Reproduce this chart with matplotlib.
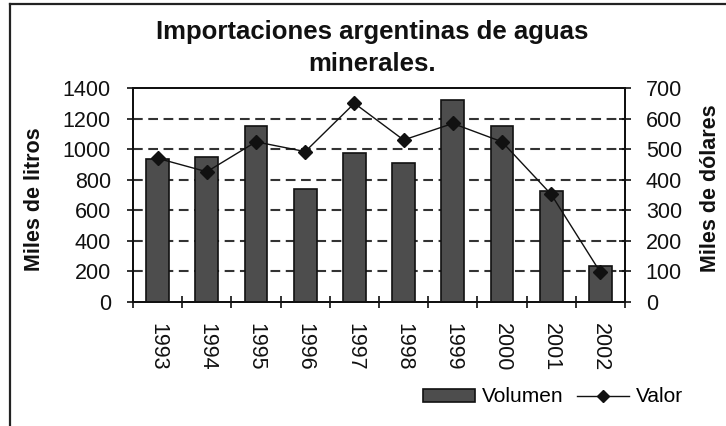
import matplotlib
matplotlib.use("Agg")
import matplotlib.pyplot as plt
from matplotlib.lines import Line2D
from matplotlib.patches import Patch
import numpy as np

plt.rcParams['font.family'] = ['Liberation Sans', 'DejaVu Sans']
plt.rcParams['lines.scale_dashes'] = False

# datos: importaciones de aguas minerales
years = ['1993', '1994', '1995', '1996', '1997', '1998', '1999', '2000', '2001', '2002']
volumen = [933, 946, 1153, 739, 972, 907, 1321, 1153, 726, 237]   # miles de litros
valor = [470, 426, 524, 492, 650, 530, 584, 524, 352, 97]          # miles de dolares

DPI = 100
fig = plt.figure(figsize=(7.26, 4.26), dpi=DPI)
ax = fig.add_axes([133 / 726, 1 - 302 / 426, 492 / 726, 214 / 426])
ax2 = ax.twinx()

x = np.arange(len(years))
ink = '#111111'

ax.bar(x, volumen, width=0.46, color='#4d4d4d', edgecolor=ink, linewidth=1.2, zorder=2)
ax2.plot(x, valor, color=ink, linewidth=1.0, marker='D', markersize=7.5,
         markerfacecolor=ink, markeredgecolor=ink)

ax.set_xlim(-0.5, len(years) - 0.5)
ax.set_ylim(0, 1400)
ax2.set_ylim(0, 700)
ax.set_yticks(np.arange(0, 1401, 200))
ax2.set_yticks(np.arange(0, 701, 100))

# lineas de guia punteadas
ax.set_axisbelow(True)
for v in range(200, 1400, 200):
    ax.axhline(v, color='#333333', linewidth=1.5, linestyle=(0, (7, 4)), zorder=1)

# eje x: marcas entre categorias, etiquetas centradas
ax.set_xticks(np.arange(-0.5, len(years)), labels=[''] * (len(years) + 1))
ax.set_xticks(x, labels=years, minor=True)
ax.tick_params(axis='x', which='major', direction='inout', length=8, width=1.2, color=ink)
ax.tick_params(axis='x', which='minor', length=0, pad=15, labelsize=15.5, labelrotation=-90,
               labelcolor=ink)
for lab in ax.get_xticklabels(minor=True):
    lab.set_va('top')

ax.tick_params(axis='y', direction='inout', length=8, width=1.2, color=ink, pad=12,
               labelsize=15.5, labelcolor=ink)
ax2.tick_params(axis='y', direction='inout', length=8, width=1.2, color=ink, pad=11,
                labelsize=15.5, labelcolor=ink)

for a in (ax, ax2):
    for s in a.spines.values():
        s.set_color(ink)
        s.set_linewidth(1.4)

ax.set_ylabel('Miles de litros', fontsize=15.5, fontweight='bold', color=ink)
ax.yaxis.set_label_coords((45 - 133) / 492, 0.48)
ax2.set_ylabel('Miles de dólares', fontsize=15.5, fontweight='bold', color=ink)
ax2.yaxis.set_label_coords((700 - 133) / 492, 0.53)

fig.text(372 / 726, 1 - 48 / 426, 'Importaciones argentinas de aguas\nminerales.',
         ha='center', va='center', fontsize=18.5, fontweight='bold', color=ink,
         linespacing=1.45)

handles = [Patch(facecolor='#4d4d4d', edgecolor=ink, linewidth=1.2),
           Line2D([], [], color=ink, linewidth=1.0, marker='D', markersize=6,
                  markerfacecolor=ink)]
fig.legend(handles, ['Volumen', 'Valor'], loc='center', ncol=2, frameon=False,
           bbox_to_anchor=(553 / 726, 1 - 397 / 426), fontsize=15,
           handlelength=2.5, handleheight=0.6, handletextpad=0.35, columnspacing=0.6)

# marco del grafico (arriba e izquierda)
fig.add_artist(Line2D([10 / 726, 10 / 726], [0, 1 - 4 / 426], color='#222222', linewidth=1.6))
fig.add_artist(Line2D([10 / 726, 1], [1 - 4 / 426, 1 - 4 / 426], color='#222222', linewidth=1.6))

fig.savefig('out.png', dpi=DPI)
